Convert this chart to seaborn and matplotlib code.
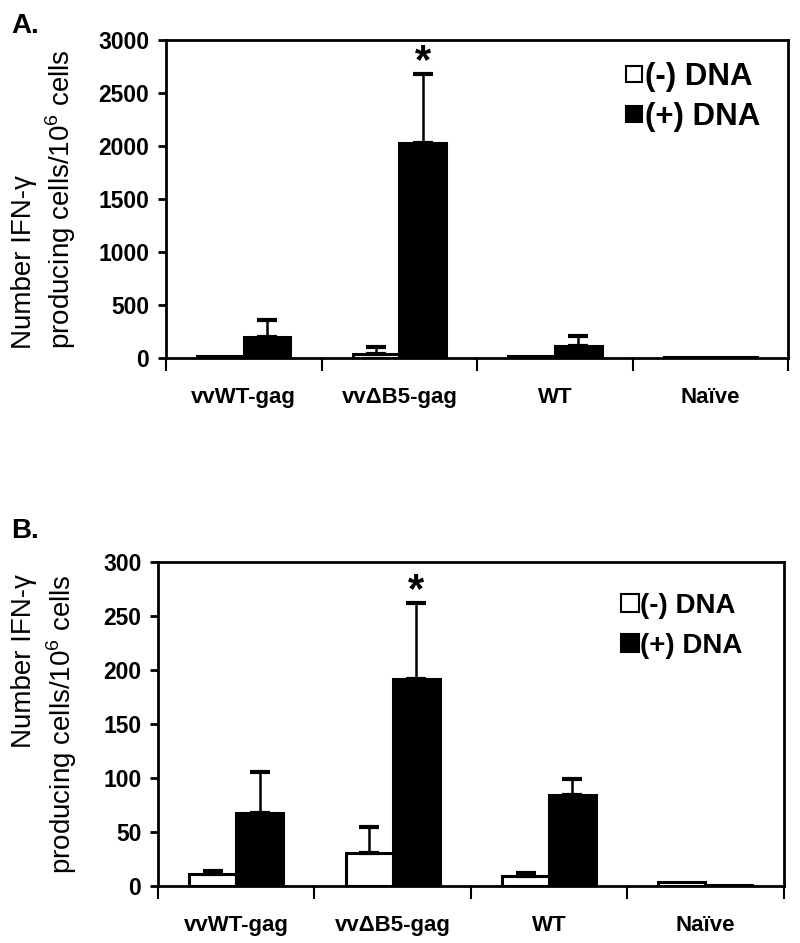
import pandas as pd
import matplotlib.pyplot as plt
import seaborn as sns
from matplotlib.lines import Line2D

# =============================================================================
# Data
# =============================================================================
groups = ['vvWT-gag', 'vv\u0394B5-gag', 'WT', 'Na\u00efve']
treatments = ['(-) DNA', '(+) DNA']

# panel A
a_neg = [20, 40, 20, 5]
a_neg_err = [0, 60, 0, 0]
a_pos = [200, 2030, 110, 5]
a_pos_err = [160, 650, 95, 0]

# panel B
b_neg = [11, 31, 9, 4]
b_neg_err = [3, 24, 3, 0]
b_pos = [68, 192, 84, 1]
b_pos_err = [38, 70, 15, 0]

sns.set_style('ticks')
plt.rcParams['font.family'] = ['Liberation Sans', 'DejaVu Sans']
plt.rcParams['mathtext.fontset'] = 'custom'
plt.rcParams['mathtext.rm'] = 'Liberation Sans'
for key in ['text.color', 'axes.labelcolor', 'xtick.color', 'ytick.color', 'axes.edgecolor']:
    plt.rcParams[key] = 'black'


def make_df(neg, pos):
    return pd.DataFrame({
        'group': groups * 2,
        'treatment': [treatments[0]] * 4 + [treatments[1]] * 4,
        'value': neg + pos,
    })


def draw_panel(ax, neg, neg_err, pos, pos_err, ymax, step, star_y, label_x, label_align,
               leg_anchor, leg_size, mark_size, leg_space):
    df = make_df(neg, pos)
    sns.barplot(data=df, x='group', y='value', hue='treatment', order=groups,
                hue_order=treatments, palette={'(-) DNA': 'white', '(+) DNA': 'black'},
                width=0.6, edgecolor='black', linewidth=2.2, errorbar=None,
                legend=False, ax=ax)

    # error bars only upward
    for cont, errs in zip(ax.containers, [neg_err, pos_err]):
        for bar, e in zip(cont, errs):
            if e <= 0:
                continue
            xc = bar.get_x() + bar.get_width() / 2
            h = bar.get_height()
            ax.errorbar(xc, h, yerr=[[0], [e]], fmt='none', ecolor='black',
                        elinewidth=1.8, capsize=7.5, capthick=3)

    ax.text(1.15, star_y, '*', ha='center', va='center', fontsize=30,
            fontweight='bold')

    ax.set_xlim(-0.5, 3.5)
    ax.set_ylim(0, ymax)
    ax.set_yticks(range(0, ymax + 1, step))
    ax.set_xticks(range(4))
    ax.set_xticks([-0.5, 0.5, 1.5, 2.5, 3.5], minor=True)
    ax.set_xticklabels(groups, fontsize=16, fontweight='bold')
    ax.tick_params(axis='x', which='major', length=0, pad=21)
    ax.tick_params(axis='x', which='minor', length=9, width=1.5, direction='out')
    ax.tick_params(axis='y', length=6, width=2, labelsize=16.5, pad=6)
    for lab in ax.get_yticklabels():
        lab.set_fontweight('bold')
    for sp in ax.spines.values():
        sp.set_visible(True)
        sp.set_linewidth(2)
    ax.set_xlabel('')
    ax.set_ylabel('Number IFN-\u03b3\nproducing cells/10$^6$ cells',
                  fontsize=20, linespacing=1.25, multialignment=label_align)
    ax.yaxis.set_label_coords(label_x, 0.5)

    handles = [Line2D([], [], marker='s', linestyle='none', markersize=mark_size,
                      markerfacecolor=c, markeredgecolor='black', markeredgewidth=1.5)
               for c in ['white', 'black']]
    ax.legend(handles, treatments, loc='upper right', bbox_to_anchor=leg_anchor,
              frameon=False, prop={'size': leg_size, 'weight': 'bold'}, handlelength=0.6,
              handletextpad=0.05, labelspacing=leg_space, borderaxespad=0, borderpad=0)


fig = plt.figure(figsize=(8, 9.43), dpi=100)
ax1 = fig.add_axes([0.2075, 0.6204, 0.778, 0.3372])
ax2 = fig.add_axes([0.1975, 0.0604, 0.782, 0.3436])

draw_panel(ax1, a_neg, a_neg_err, a_pos, a_pos_err, 3000, 500, 2795, -0.141, 'left',
           (0.955, 0.93), 22.5, 11, 0.3)
draw_panel(ax2, b_neg, b_neg_err, b_pos, b_pos_err, 300, 50, 273, -0.127, 'right',
           (0.934, 0.905), 20, 13, 0.5)

fig.text(0.014, 0.986, 'A.', fontsize=20, fontweight='bold', va='top')
fig.text(0.014, 0.451, 'B.', fontsize=20, fontweight='bold', va='top')

plt.savefig('out.png', dpi=100)
